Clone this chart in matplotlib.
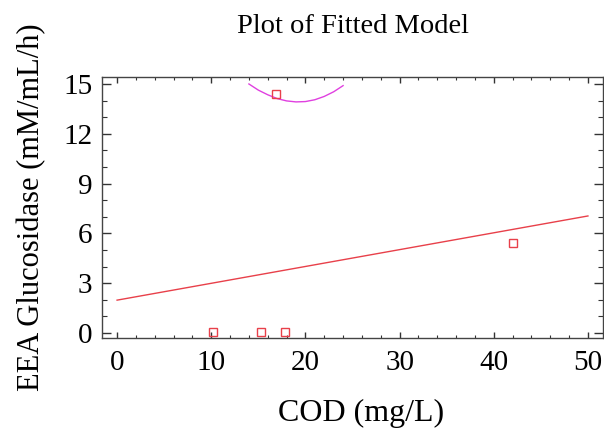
import matplotlib
matplotlib.use("Agg")
import matplotlib.pyplot as plt
from matplotlib.ticker import MultipleLocator

# Data
obs_x = [10.2, 15.3, 17.8, 42.0, 16.9]
obs_y = [0.05, 0.05, 0.05, 5.4, 14.4]
line_x = [0, 50]
line_y = [1.98, 7.05]
curve_x = [14.0, 15.0, 16.0, 17.0, 18.0, 19.0, 20.0, 21.0, 22.0, 23.0, 24.0]
curve_y = [15.0, 14.63, 14.35, 14.12, 13.98, 13.92, 13.94, 14.05, 14.25, 14.53, 14.9]

title = "Plot of Fitted Model"
xlabel = "COD (mg/L)"
ylabel = "EEA Glucosidase (mM/mL/h)"
xticks = [0, 10, 20, 30, 40, 50]
yticks = [0, 3, 6, 9, 12, 15]

plt.rcParams['font.family'] = ['Liberation Serif', 'DejaVu Serif']

fig = plt.figure(figsize=(6.04, 4.28), dpi=100)
ax = fig.add_axes([102/604, 1-338/428, (603-102)/604, (338-77)/428])

ax.plot(line_x, line_y, color='#e8404a', lw=1.0)
ax.plot(curve_x, curve_y, color='#e040e0', lw=1.0)
ax.plot(obs_x, obs_y, linestyle='none', marker='s', markersize=5.5,
        markerfacecolor='none', markeredgecolor='#e8404a', markeredgewidth=1.0)

ax.set_xlim(-1.6, 51.6)
ax.set_ylim(-0.3, 15.42)
ax.set_xticks(xticks)
ax.set_yticks(yticks)
ax.xaxis.set_minor_locator(MultipleLocator(2))
ax.yaxis.set_minor_locator(MultipleLocator(1))
ax.tick_params(which='both', direction='in', top=True, right=True, labelsize=21, color='#333333')
ax.tick_params(axis='x', which='major', length=4.3, width=1, pad=9)
ax.tick_params(axis='x', which='minor', length=2.2, width=0.8)
ax.tick_params(axis='y', which='major', length=6.5, width=1, pad=7)
ax.tick_params(axis='y', which='minor', length=3.6, width=0.8)
for s in ax.spines.values():
    s.set_color('#444444')
    s.set_linewidth(1.0)

ax.set_title(title, fontsize=20.5, pad=32)
ax.set_xlabel(xlabel, fontsize=23)
ax.set_ylabel(ylabel, fontsize=22, labelpad=12)
ax.xaxis.set_label_coords(0.517, -0.235)

fig.savefig("out.png", dpi=100)
